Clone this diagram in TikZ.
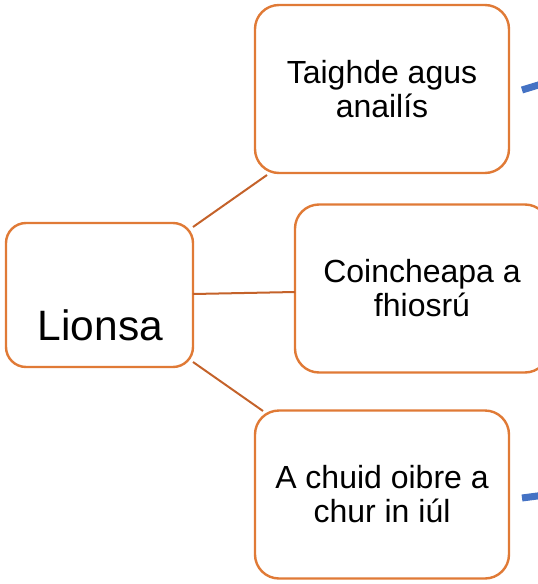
\documentclass[tikz,border=0pt]{standalone}
\usepackage{fontspec}
\setmainfont{Liberation Sans}
\definecolor{boxorange}{HTML}{E07A36}
\definecolor{linkorange}{HTML}{C4622A}
\definecolor{accentblue}{HTML}{4472C4}
\begin{document}
\begin{tikzpicture}[x=1pt,y=-1pt,
  box/.style={draw=boxorange,line width=2.4pt,rounded corners=24pt,fill=white,
    align=center,font=\fontsize{32}{34}\selectfont,inner sep=0pt},
  link/.style={draw=linkorange,line width=2pt},
  accent/.style={draw=accentblue,line width=7pt}]
\useasboundingbox (0,0) rectangle (538,584);
\clip (0,0) rectangle (538,584);
\node[box,minimum width=187pt,minimum height=144pt,rounded corners=20pt] (l) at (99.5,295) {};
\node[font=\fontsize{42.5}{50}\selectfont,anchor=base] (lt) at (100.5,340) {Lionsa};
\node[box,minimum width=254pt,minimum height=168pt] (t) at (382,89) {Taighde agus\\anailís};
\node[box,minimum width=254pt,minimum height=168pt] (m) at (422,288.5) {Coincheapa a\\fhiosrú};
\node[box,minimum width=254pt,minimum height=168pt] (b) at (382,494.5) {A chuid oibre a\\chur in iúl};
\coordinate (lt1) at (193,227);
\coordinate (t1) at (267,175);
\coordinate (lm1) at (193,294);
\coordinate (m1) at (295,292);
\coordinate (lb1) at (193,362);
\coordinate (b1) at (263,411);
\draw[link] (lt1) -- (t1);
\draw[link] (lm1) -- (m1);
\draw[link] (lb1) -- (b1);
\coordinate (a1) at (522,90);
\coordinate (a2) at (545,83);
\coordinate (a3) at (522,498);
\coordinate (a4) at (545,495);
\draw[accent] (a1) -- (a2);
\draw[accent] (a3) -- (a4);
\end{tikzpicture}
\end{document}
